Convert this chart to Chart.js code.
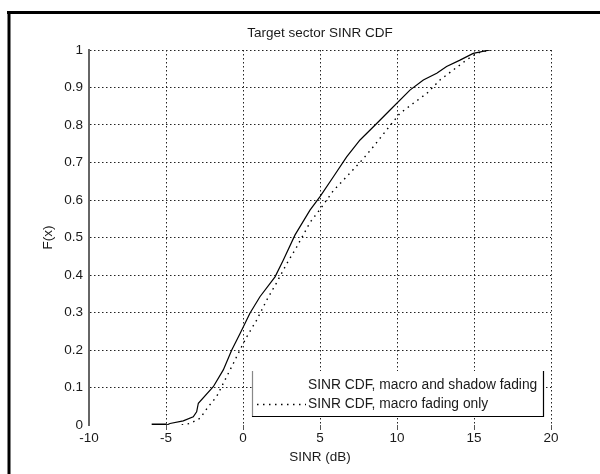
<!DOCTYPE html>
<html>
<head>
<meta charset="utf-8">
<script src="https://cdn.jsdelivr.net/npm/chart.js@4/dist/chart.umd.min.js"></script>
<style>
  html, body { margin: 0; padding: 0; background: #fff; }
  #wrap { width: 600px; height: 474px; position: relative; }
</style>
</head>
<body>
<div id="wrap"><canvas id="c" width="600" height="474"></canvas></div>
<script>
// ---- Data ----
const chartTitle = 'Target sector SINR CDF';
const xAxisTitle = 'SINR (dB)';
const yAxisTitle = 'F(x)';
const seriesLabels = ['SINR CDF, macro and shadow fading', 'SINR CDF, macro fading only'];

const xTickValues = [-10, -5, 0, 5, 10, 15, 20];
const xTickLabels = ['-10', '-5', '0', '5', '10', '15', '20'];
const yTickValues = [0, 0.1, 0.2, 0.3, 0.4, 0.5, 0.6, 0.7, 0.8, 0.9, 1];
const yTickLabels = ['0', '0.1', '0.2', '0.3', '0.4', '0.5', '0.6', '0.7', '0.8', '0.9', '1'];

// macro and shadow fading (solid)
const sinrShadow = [-5.93, -4.95, -4.74, -3.88, -3.23, -3.01, -2.90, -1.93, -1.28, -0.73, -0.19, 0.45, 1.10, 2.08, 2.62, 3.38, 4.35, 5.0, 5.87, 6.73, 7.6, 8.68, 9.55, 10.84, 11.71, 12.58, 13.22, 14.09, 14.95, 16.04];
const cdfShadow  = [0, 0, 0.004, 0.011, 0.022, 0.035, 0.058, 0.102, 0.147, 0.2, 0.244, 0.298, 0.342, 0.395, 0.44, 0.507, 0.573, 0.609, 0.662, 0.715, 0.76, 0.804, 0.84, 0.893, 0.92, 0.938, 0.956, 0.973, 0.991, 1.0];

// macro fading only (dotted)
const sinrMacro = [-3.98, -3.44, -2.79, -2.25, -1.71, -1.17, -0.63, -0.31, 0.24, 0.89, 1.54, 2.19, 2.84, 3.49, 4.35, 5.0, 5.87, 6.95, 7.81, 8.46, 9.33, 10.19, 11.06, 11.93, 12.79, 13.66, 14.5, 15.17, 16.0];
const cdfMacro  = [0, 0.004, 0.018, 0.049, 0.076, 0.12, 0.164, 0.191, 0.235, 0.28, 0.333, 0.38, 0.43, 0.475, 0.54, 0.575, 0.625, 0.672, 0.71, 0.742, 0.787, 0.831, 0.858, 0.884, 0.92, 0.947, 0.973, 0.991, 1.0];

// ---- Styling ----
const FONT = "'Liberation Sans', Arial, Helvetica, sans-serif";
const TEXT = '#1a1a1a';
const FS = 13.5;
const CURVE_DOTS = [1.5, 4.5];
const GRID_DOTS = [1.5, 2.5];

function pts(xs, ys) { return xs.map((x, i) => ({ x: x, y: ys[i] })); }

const framePlugin = {
  id: 'frame',
  beforeDraw(chart) {
    const ctx = chart.ctx;
    ctx.save();
    ctx.fillStyle = '#fff';
    ctx.fillRect(0, 0, chart.width, chart.height);
    ctx.strokeStyle = '#000';
    ctx.lineWidth = 3;
    ctx.beginPath();
    ctx.moveTo(7, 12.5); ctx.lineTo(chart.width, 12.5);
    ctx.moveTo(9, 11); ctx.lineTo(9, chart.height);
    ctx.stroke();
    ctx.restore();
  }
};

const legendBoxPlugin = {
  id: 'legendBox',
  afterDraw(chart) {
    const ctx = chart.ctx;
    const a = chart.chartArea;
    const right = a.right - 7, bottom = a.bottom - 8;
    const left = right - 292, top = bottom - 46;
    ctx.save();
    ctx.fillStyle = '#fff';
    ctx.fillRect(left, top, right - left, bottom - top);
    ctx.lineWidth = 1.2;
    ctx.strokeStyle = '#888';
    ctx.beginPath(); ctx.moveTo(left + 0.5, top); ctx.lineTo(left + 0.5, bottom); ctx.stroke();
    ctx.strokeStyle = '#000';
    ctx.beginPath(); ctx.moveTo(left, bottom - 0.5); ctx.lineTo(right - 0.5, bottom - 0.5); ctx.lineTo(right - 0.5, top); ctx.stroke();
    const ds = chart.data.datasets;
    const textX = left + 56;
    const rows = [top + 14, top + 33.5];
    ctx.font = '13.8px ' + FONT;
    ctx.fillStyle = TEXT;
    ctx.textBaseline = 'middle';
    ctx.textAlign = 'left';
    ds.forEach((d, i) => {
      ctx.fillText(d.label, textX, rows[i]);
      if (i === 1) {
        ctx.strokeStyle = d.borderColor;
        ctx.lineWidth = d.borderWidth;
        ctx.setLineDash(d.borderDash || []);
        ctx.beginPath(); ctx.moveTo(left + 5, rows[i]); ctx.lineTo(textX - 2, rows[i]); ctx.stroke();
        ctx.setLineDash([]);
      }
    });
    ctx.restore();
  }
};

new Chart(document.getElementById('c'), {
  type: 'scatter',
  data: {
    datasets: [
      {
        label: seriesLabels[0],
        data: pts(sinrShadow, cdfShadow),
        showLine: true,
        borderColor: '#000',
        borderWidth: 1.2,
        pointRadius: 0,
        tension: 0,
        segment: {
          borderWidth: c => (c.p0.parsed.y === 0 && c.p1.parsed.y === 0) ? 3 : 1.2
        }
      },
      {
        label: seriesLabels[1],
        data: pts(sinrMacro, cdfMacro),
        showLine: true,
        borderColor: '#000',
        borderWidth: 1.4,
        borderDash: CURVE_DOTS,
        pointRadius: 0,
        tension: 0
      }
    ]
  },
  options: {
    responsive: false,
    animation: false,
    events: [],
    layout: { padding: { left: 0, right: 49, top: 0, bottom: 0 } },
    plugins: {
      legend: { display: false },
      tooltip: { enabled: false },
      title: {
        display: true,
        text: chartTitle,
        fullSize: false,
        color: TEXT,
        font: { family: FONT, size: FS, weight: 'normal', lineHeight: 1.2 },
        padding: { top: 25.5, bottom: 8.3 }
      }
    },
    scales: {
      x: {
        type: 'linear',
        min: -10, max: 20,
        afterBuildTicks: s => { s.ticks = xTickValues.map(v => ({ value: v })); },
        afterFit: s => { s.height = 49; },
        ticks: {
          color: TEXT,
          font: { family: FONT, size: FS },
          padding: 0,
          maxRotation: 0,
          callback: (v) => xTickLabels[xTickValues.indexOf(v)]
        },
        border: { display: false, dash: GRID_DOTS },
        grid: {
          color: c => (c.tick && c.tick.value === -10) ? 'rgba(0,0,0,0)' : '#222',
          lineWidth: 1,
          drawTicks: true,
          tickLength: 5,
          tickColor: c => (c.tick && c.tick.value === -10) ? 'rgba(0,0,0,0)' : '#555',
          tickBorderDash: [],
          tickWidth: 1
        },
        title: {
          display: true,
          text: xAxisTitle,
          color: TEXT,
          font: { family: FONT, size: FS },
          padding: { top: 0, bottom: 9 }
        }
      },
      y: {
        type: 'linear',
        min: 0, max: 1,
        afterBuildTicks: s => { s.ticks = yTickValues.map(v => ({ value: v })); },
        afterFit: s => { s.width = 89; },
        ticks: {
          color: TEXT,
          font: { family: FONT, size: FS },
          padding: 6,
          callback: (v) => yTickLabels[yTickValues.indexOf(v)]
        },
        border: { display: true, color: '#666', width: 2, dash: GRID_DOTS },
        grid: {
          color: c => (c.tick && c.tick.value === 0) ? 'rgba(0,0,0,0)' : '#222',
          lineWidth: 1,
          drawTicks: false
        },
        title: {
          display: true,
          text: yAxisTitle,
          color: TEXT,
          font: { family: FONT, size: FS },
          padding: { top: 40, bottom: 0 }
        }
      }
    }
  },
  plugins: [framePlugin, legendBoxPlugin]
});
</script>
</body>
</html>
